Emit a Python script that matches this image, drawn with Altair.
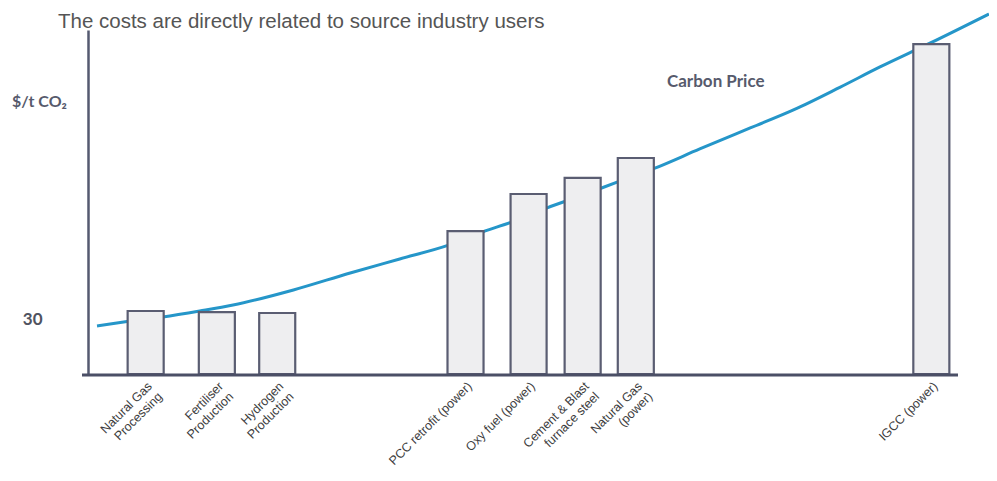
import altair as alt
import pandas as pd

# ---- data ----
categories = [
    "Natural Gas\nProcessing",
    "Fertiliser\nProduction",
    "Hydrogen\nProduction",
    "PCC retrofit (power)",
    "Oxy fuel (power)",
    "Cement & Blast\nfurnace steel",
    "Natural Gas\n(power)",
    "IGCC (power)",
]
bar_position = [6.4, 14.3, 21.0, 41.9, 48.9, 54.9, 60.8, 93.6]
bar_cost = [35.0, 34.4, 33.9, 79.4, 100.0, 108.9, 120.0, 183.3]

curve_x = [1.0, 4.7, 8.3, 12.4, 16.1, 22.8, 29.1, 34.6, 40.1, 43.8, 47.0,
           50.9, 54.9, 58.8, 62.7, 67.9, 73.5, 78.3, 83.5, 87.9, 93.5, 100.0]
curve_price = [26.7, 29.4, 31.7, 35.0, 38.3, 46.7, 56.1, 63.9, 71.7, 78.9, 84.4,
               92.2, 99.4, 106.7, 113.9, 125.0, 136.7, 146.7, 159.4, 170.6, 183.9, 200.0]

y_ticks = [30]
title_text = "The costs are directly related to source industry users"
y_label = "$/t CO\u2082"
curve_label = "Carbon Price"

bars_df = pd.DataFrame({"category": categories, "pos": bar_position, "cost": bar_cost})
curve_df = pd.DataFrame({"x": curve_x, "price": curve_price})

xs = alt.Scale(domain=[0, 100], nice=False, zero=False)
ys = alt.Scale(domain=[0, 191.1], nice=False, zero=True)

BAR_HALF = 2.0
AXIS_COLOR = "#555a70"
TEXT_BOLD = "#565a6c"

curve = alt.Chart(curve_df).mark_line(
    color="#2596c9", strokeWidth=3, interpolate="monotone"
).encode(
    x=alt.X("x:Q", scale=xs, axis=None),
    y=alt.Y("price:Q", scale=ys,
            axis=alt.Axis(values=y_ticks, title=None, grid=False, ticks=False, tickSize=0,
                          labelPadding=46, labelFont="Lato", labelFontWeight="bold",
                          labelFontSize=17, labelColor="#50535f",
                          domainColor=AXIS_COLOR, domainWidth=2.5)),
)

bars = alt.Chart(bars_df).transform_calculate(
    x0=f"datum.pos - {BAR_HALF}", x1=f"datum.pos + {BAR_HALF}"
).mark_rect(fill="#eeeef0", stroke="#5a5d72", strokeWidth=2.2).encode(
    x=alt.X("x0:Q", scale=xs, axis=None),
    x2="x1:Q",
    y=alt.Y("cost:Q", scale=ys),
    y2=alt.datum(0),
)

labels = alt.Chart(bars_df).mark_text(
    angle=315, align="right", baseline="top", lineBreak="\n",
    font="Liberation Sans", fontSize=12.5, lineHeight=14.5, color="#3d3d40"
).encode(
    x=alt.X("pos:Q", scale=xs, axis=None),
    y=alt.value(350),
    text="category:N",
)

one = pd.DataFrame({"a": [0]})

x_axis_line = alt.Chart(one).mark_rule(color="#4b4f66", strokeWidth=3).encode(
    x=alt.value(-6), x2=alt.value(870), y=alt.value(345)
)

title = alt.Chart(one).mark_text(
    align="left", baseline="alphabetic", font="Liberation Sans", fontSize=20.5, color="#555555"
).encode(x=alt.value(-30), y=alt.value(-2), text=alt.value(title_text))

ylab = alt.Chart(one).mark_text(
    align="left", baseline="middle", font="Lato", fontWeight="bold", fontSize=16, color=TEXT_BOLD
).encode(x=alt.value(-76), y=alt.value(72), text=alt.value(y_label))

clab = alt.Chart(one).mark_text(
    align="left", baseline="middle", font="Lato", fontWeight="bold", fontSize=17, color=TEXT_BOLD
).encode(x=alt.value(579), y=alt.value(52), text=alt.value(curve_label))

chart = alt.layer(curve, bars, labels, x_axis_line, title, ylab, clab).properties(
    width=901, height=344,
    autosize=alt.AutoSizeParams(type="none"),
    padding={"left": 80, "top": 22, "right": 0, "bottom": 95},
    background="white",
).configure_view(stroke=None)

chart.save("out.html", embed_options={"renderer": "svg", "actions": False})
